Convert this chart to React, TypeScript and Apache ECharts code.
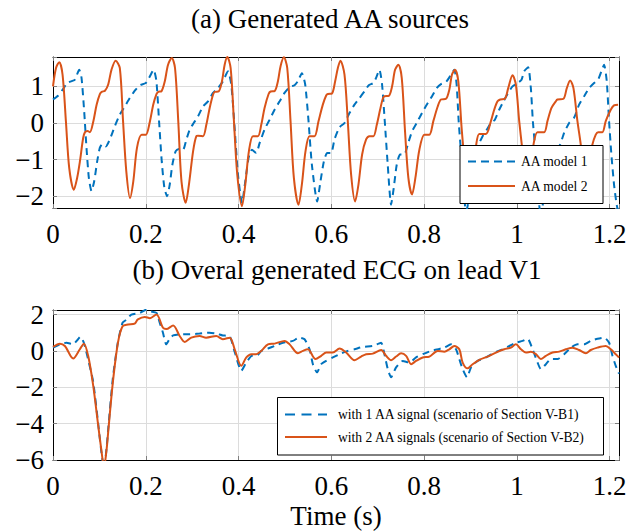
import React, { useEffect, useRef } from 'react';
import * as echarts from 'echarts';

// ---- Data (time in s, amplitude) ----
const aaModel1: [number, number][] = [
  [0,0.64],[0.0113,0.75],[0.022,0.93],[0.0306,1.09],[0.04,1.14],[0.0471,1.18],[0.0565,1.45],[0.0615,1.23],[0.0672,0.32],[0.0722,-0.68],[0.0773,-1.5],[0.083,-1.86],[0.0888,-1.59],[0.0952,-1.05],[0.1009,-0.68],[0.1067,-0.57],[0.1139,-0.64],[0.1225,-0.45],[0.1332,-0.09],[0.1441,0.23],[0.1547,0.45],[0.1655,0.68],[0.1763,0.88],[0.187,1.03],[0.2,1.09],[0.2071,1.23],[0.217,1.45],[0.2229,1.14],[0.2286,0.05],[0.2344,-1.05],[0.2401,-1.77],[0.2459,-2.0],[0.2516,-1.68],[0.2573,-1.14],[0.2645,-0.77],[0.2731,-0.7],[0.2803,-0.73],[0.2875,-0.45],[0.2947,-0.18],[0.3033,0.0],[0.3126,0.18],[0.3233,0.45],[0.3341,0.59],[0.3449,0.82],[0.3556,0.95],[0.3664,1.14],[0.3771,1.41],[0.3843,1.05],[0.3915,-0.14],[0.3987,-1.41],[0.4073,-2.18],[0.4145,-1.59],[0.4216,-0.95],[0.4288,-0.73],[0.4381,-0.82],[0.4453,-0.55],[0.456,-0.18],[0.4668,0.09],[0.4776,0.36],[0.4884,0.59],[0.4991,0.82],[0.5099,0.98],[0.5206,1.03],[0.5278,1.14],[0.5364,1.36],[0.5436,1.05],[0.5508,0.05],[0.558,-1.14],[0.5694,-2.14],[0.5766,-1.59],[0.5838,-1.05],[0.591,-0.82],[0.5996,-0.82],[0.6067,-0.45],[0.6175,-0.12],[0.6283,0.0],[0.639,0.27],[0.6498,0.5],[0.6605,0.68],[0.6713,0.86],[0.6806,1.03],[0.6907,1.09],[0.6964,1.23],[0.7036,1.45],[0.7093,1.05],[0.7151,0.05],[0.7215,-1.14],[0.7287,-2.23],[0.7345,-1.77],[0.7409,-1.14],[0.7481,-0.86],[0.7574,-0.86],[0.7646,-0.59],[0.7739,-0.23],[0.7839,0.0],[0.7954,0.27],[0.8055,0.5],[0.817,0.73],[0.827,0.95],[0.8363,1.06],[0.8471,1.12],[0.8557,1.27],[0.865,1.45],[0.87,1.05],[0.8744,0.05],[0.8787,-0.68],[0.884,-1.6],[0.89,-2.4],[0.8937,-2.27],[0.899,-1.6],[0.906,-0.9],[0.913,-0.75],[0.9188,-0.55],[0.926,-0.36],[0.9353,-0.18],[0.9439,0.0],[0.9525,0.09],[0.9618,0.36],[0.9711,0.59],[0.9797,0.79],[0.9905,1.0],[1.0013,1.09],[1.0099,1.18],[1.0156,1.41],[1.0242,1.52],[1.03,0.95],[1.0343,0.05],[1.0386,-0.59],[1.044,-1.5],[1.05,-2.4],[1.0551,-2.27],[1.062,-1.6],[1.07,-0.9],[1.08,-0.85],[1.087,-0.7],[1.0931,-0.59],[1.1017,-0.27],[1.1125,0.0],[1.1232,0.14],[1.134,0.5],[1.1448,0.73],[1.1555,0.95],[1.1663,1.09],[1.1749,1.18],[1.1821,1.41],[1.1878,1.59],[1.1936,1.14],[1.1986,0.05],[1.2036,-0.86],[1.2093,-1.68],[1.215,-2.23],[1.22,-2.5]
];

const aaModel2: [number, number][] = [
  [0,1.0],[0.0065,1.5],[0.0135,1.66],[0.0206,1.32],[0.0278,0.05],[0.035,-1.23],[0.045,-1.82],[0.052,-1.5],[0.058,-1.05],[0.065,-0.41],[0.069,-0.25],[0.0745,-0.22],[0.0795,-0.25],[0.087,0.05],[0.094,0.5],[0.101,0.79],[0.105,0.85],[0.112,0.88],[0.119,1.05],[0.126,1.45],[0.135,1.7],[0.144,1.5],[0.151,0.05],[0.158,-1.32],[0.166,-2.05],[0.173,-1.6],[0.181,-0.68],[0.191,-0.32],[0.2,-0.32],[0.209,0.05],[0.216,0.5],[0.223,0.79],[0.227,0.85],[0.234,0.87],[0.241,1.14],[0.248,1.59],[0.256,1.77],[0.263,1.5],[0.27,0.05],[0.277,-1.6],[0.286,-2.18],[0.293,-1.68],[0.302,-0.77],[0.309,-0.36],[0.3126,-0.35],[0.3233,-0.36],[0.3305,-0.05],[0.3377,0.41],[0.3449,0.77],[0.3485,0.85],[0.357,0.86],[0.3642,1.14],[0.37,1.59],[0.3757,1.8],[0.3829,1.5],[0.39,0.05],[0.3972,-1.41],[0.4073,-2.27],[0.4145,-1.68],[0.4223,-0.77],[0.431,-0.36],[0.4417,-0.36],[0.4489,-0.05],[0.456,0.41],[0.4647,0.79],[0.469,0.86],[0.4776,0.87],[0.4848,1.14],[0.4905,1.55],[0.4977,1.79],[0.5049,1.5],[0.512,0.05],[0.5192,-1.5],[0.5292,-2.23],[0.5364,-1.68],[0.5443,-0.77],[0.553,-0.36],[0.5637,-0.36],[0.5723,0.05],[0.5816,0.5],[0.5888,0.75],[0.5924,0.79],[0.601,0.8],[0.6082,1.14],[0.614,1.5],[0.6195,1.7],[0.6283,1.32],[0.6354,0.05],[0.6426,-1.41],[0.6512,-2.14],[0.6584,-1.68],[0.6663,-0.86],[0.6749,-0.45],[0.6821,-0.36],[0.6907,-0.36],[0.6979,-0.05],[0.705,0.36],[0.7108,0.66],[0.7144,0.73],[0.7237,0.74],[0.7309,1.0],[0.7373,1.45],[0.7445,1.59],[0.7517,1.23],[0.7588,-0.23],[0.766,-1.5],[0.7739,-1.95],[0.7811,-1.5],[0.7897,-0.73],[0.8005,-0.32],[0.8112,-0.32],[0.8198,0.05],[0.8292,0.45],[0.8363,0.64],[0.8471,0.66],[0.8543,0.91],[0.86,1.32],[0.8665,1.45],[0.8736,1.14],[0.8808,-0.14],[0.888,-1.14],[0.897,-1.85],[0.905,-1.3],[0.9117,-0.64],[0.9188,-0.3],[0.9332,-0.3],[0.9439,0.05],[0.951,0.36],[0.9582,0.59],[0.964,0.64],[0.974,0.66],[0.9812,0.95],[0.9905,1.3],[0.9977,1.05],[1.0049,0.05],[1.012,-0.77],[1.02,-1.7],[1.028,-1.3],[1.0357,-0.59],[1.0443,-0.25],[1.0587,-0.25],[1.0658,0.05],[1.0745,0.41],[1.0838,0.59],[1.0874,0.64],[1.1003,0.66],[1.1075,0.95],[1.1147,1.16],[1.1218,0.95],[1.1304,0.05],[1.1376,-0.59],[1.145,-1.5],[1.154,-1.2],[1.1627,-0.59],[1.1699,-0.32],[1.175,-0.25],[1.1842,-0.25],[1.1914,0.05],[1.2022,0.36],[1.2093,0.48],[1.218,0.5]
];

const ecgOneAA: [number, number][] = [
  [0,0.18],[0.015,0.36],[0.029,0.45],[0.0435,0.36],[0.051,0.55],[0.059,0.78],[0.0665,0.45],[0.0773,-0.64],[0.0866,-1.7],[0.0974,-4.0],[0.104,-5.5],[0.11,-6.5],[0.116,-5.2],[0.119,-4.3],[0.129,-1.5],[0.14,0.5],[0.15,1.55],[0.159,1.73],[0.169,2.0],[0.187,2.09],[0.201,2.27],[0.209,2.18],[0.223,2.09],[0.23,1.55],[0.237,1.0],[0.244,0.36],[0.251,0.64],[0.259,0.85],[0.273,0.91],[0.295,0.91],[0.316,0.96],[0.337,1.0],[0.352,0.95],[0.366,0.85],[0.381,0.8],[0.392,-0.09],[0.406,-1.09],[0.4167,-0.64],[0.429,-0.27],[0.439,-0.27],[0.449,0],[0.4633,0.13],[0.4777,0.27],[0.4956,0.45],[0.517,0.55],[0.531,0.73],[0.5422,0.64],[0.553,0.09],[0.5602,-0.73],[0.569,-1.18],[0.5781,-0.73],[0.5889,-0.55],[0.6032,-0.36],[0.6176,-0.18],[0.6355,0],[0.6499,0.09],[0.6678,0.22],[0.6893,0.27],[0.7073,0.45],[0.7144,-0.18],[0.7216,-1.0],[0.7288,-1.45],[0.7395,-0.91],[0.7539,-0.55],[0.7682,-0.64],[0.7826,-0.36],[0.7969,-0.18],[0.8148,0],[0.8292,0.09],[0.8435,0.18],[0.858,0.36],[0.8687,0.09],[0.8758,-0.45],[0.883,-1.0],[0.8923,-1.45],[0.901,-0.91],[0.9153,-0.55],[0.9332,-0.36],[0.9512,-0.09],[0.9691,0.09],[0.9835,0.27],[0.9978,0.45],[1.0122,0.55],[1.023,0.67],[1.0337,0.09],[1.0445,-0.64],[1.0516,-1.0],[1.0624,-0.73],[1.0732,-0.45],[1.0875,-0.45],[1.1018,-0.18],[1.1162,0.18],[1.1305,0.36],[1.1449,0.36],[1.1592,0.55],[1.1736,0.67],[1.188,0.73],[1.1987,0.45],[1.2059,-0.27],[1.213,-0.82],[1.22,-1.25]
];

const ecgTwoAA: [number, number][] = [
  [0,0.22],[0.015,0.4],[0.0256,0.27],[0.0435,-0.42],[0.0579,0.09],[0.0665,0.4],[0.0758,-0.27],[0.0866,-1.9],[0.0974,-4.1],[0.104,-5.4],[0.11,-6.4],[0.116,-5.3],[0.119,-4.45],[0.129,-1.73],[0.14,0.45],[0.15,1.36],[0.162,1.45],[0.176,1.5],[0.183,1.73],[0.198,1.87],[0.209,1.8],[0.223,2.0],[0.237,1.27],[0.244,1.2],[0.259,1.4],[0.273,0.82],[0.284,0.49],[0.298,0.73],[0.316,0.82],[0.33,0.73],[0.352,0.82],[0.366,0.64],[0.381,0.73],[0.3916,0.09],[0.4059,-0.82],[0.4167,-0.36],[0.4274,-0.18],[0.4382,-0.18],[0.449,0],[0.4633,0.36],[0.4777,0.4],[0.4992,0.55],[0.51,0.36],[0.5279,-0.13],[0.5386,0],[0.5494,0.09],[0.5659,-0.45],[0.5781,-0.27],[0.5889,-0.09],[0.6032,-0.09],[0.6176,0.13],[0.6319,-0.09],[0.6499,-0.51],[0.6642,-0.31],[0.675,-0.18],[0.6893,-0.15],[0.7073,0.05],[0.718,-0.27],[0.7288,-0.51],[0.7395,-0.31],[0.7503,-0.13],[0.7611,-0.27],[0.7718,-0.73],[0.7826,-0.55],[0.7969,-0.36],[0.8113,-0.31],[0.8292,0],[0.8435,-0.04],[0.8543,0.09],[0.865,0.27],[0.8758,0.09],[0.883,-0.64],[0.8938,-0.96],[0.9045,-0.73],[0.9189,-0.49],[0.9368,-0.31],[0.9548,-0.09],[0.9727,0.09],[0.987,0.18],[0.9978,0.36],[1.0086,0.09],[1.0193,-0.09],[1.0301,-0.05],[1.0409,-0.18],[1.0516,-0.45],[1.0624,-0.27],[1.0767,-0.09],[1.0911,-0.04],[1.1054,0.09],[1.1198,0.18],[1.1341,0.05],[1.1485,-0.13],[1.1592,0.05],[1.1736,0.18],[1.1915,0.27],[1.2023,0.09],[1.213,-0.18],[1.22,-0.36]
];

// axis ranges and tick steps
const timeRange = [0, 1.22];
const timeStep = 0.2;
const aaRange = [-2.32, 1.8];
const aaStep = 1;
const ecgRange = [-6, 2.25];
const ecgStep = 2;

const titleA = '(a) Generated AA sources';
const titleB = '(b) Overal generated ECG on lead V1';
const xLabel = 'Time (s)';
const legendA = ['AA model 1', 'AA model 2'];
const legendB = ['with 1 AA signal (scenario of Section V-B1)', 'with 2 AA signals (scenario of Section V-B2)'];

const FAMILY = '"Liberation Serif", "Times New Roman", serif';
const BLUE = '#0072BD';
const ORANGE = '#D95319';
const GRIDC = '#dcdcdc';
const TICKC = '#7f7f7f';

function fmt(step: number) {
  return (v: number) => {
    const k = v / step;
    if (Math.abs(k - Math.round(k)) > 1e-6) return '';
    const r = Math.round(v * 100) / 100;
    const s = String(r);
    return s.replace('-', '\u2212');
  };
}

function mkX(grid: number, pos: 'top' | 'bottom') {
  return {
    type: 'value', gridIndex: grid, position: pos, min: timeRange[0], max: timeRange[1],
    axisLine: { show: true, onZero: false, lineStyle: { color: '#000', width: 1 } },
    axisTick: { show: true, inside: true, length: 4, lineStyle: { color: TICKC, width: 1 } },
    axisLabel: pos === 'bottom'
      ? { show: true, formatter: fmt(timeStep), fontFamily: FAMILY, fontSize: 27, color: '#000', margin: 12, showMaxLabel: true, showMinLabel: true }
      : { show: false },
    splitLine: { show: pos === 'bottom', lineStyle: { color: GRIDC, width: 1 } },
  };
}

function mkY(grid: number, pos: 'left' | 'right', range: number[], step: number) {
  return {
    type: 'value', gridIndex: grid, position: pos, min: range[0], max: range[1],
    axisLine: { show: true, onZero: false, lineStyle: { color: '#000', width: 1 } },
    axisTick: { show: true, inside: true, length: 4, lineStyle: { color: TICKC, width: 1 } },
    axisLabel: pos === 'left'
      ? { show: true, formatter: fmt(step), fontFamily: FAMILY, fontSize: 27, color: '#000', margin: 9 }
      : { show: false },
    splitLine: { show: pos === 'left', lineStyle: { color: GRIDC, width: 1 } },
  };
}

function legendBox(x: number, y: number, w: number, h: number, lineX0: number, lineX1: number, textX: number, rows: number[], labels: string[], dash: number[]) {
  const ts = { fontFamily: FAMILY, fontSize: 13.6, fill: '#000', align: 'left', verticalAlign: 'middle' };
  return [
    { type: 'rect', z: 100, shape: { x, y, width: w, height: h }, style: { fill: '#fff', stroke: '#000', lineWidth: 1 } },
    { type: 'line', z: 101, shape: { x1: lineX0, y1: rows[0], x2: lineX1, y2: rows[0] }, style: { stroke: BLUE, lineWidth: 2, lineDash: dash } },
    { type: 'line', z: 101, shape: { x1: lineX0, y1: rows[1], x2: lineX1, y2: rows[1] }, style: { stroke: ORANGE, lineWidth: 2 } },
    { type: 'text', z: 101, x: textX, y: rows[0], style: { ...ts, text: labels[0] } },
    { type: 'text', z: 101, x: textX, y: rows[1], style: { ...ts, text: labels[1] } },
  ];
}

export default function App() {
  const ref = useRef<HTMLDivElement>(null);
  useEffect(() => {
    if (!ref.current) return;
    const chart = echarts.init(ref.current, undefined, { renderer: 'svg' });
    const lineBase = { type: 'line', showSymbol: false, symbol: 'none', clip: true };
    const big = { fontFamily: FAMILY, fontSize: 27, fill: '#000', align: 'center', verticalAlign: 'middle' };
    chart.setOption({
      animation: false,
      backgroundColor: '#fff',
      grid: [
        { left: 53, top: 57, width: 566, height: 151 },
        { left: 53, top: 310, width: 566, height: 150 },
      ],
      xAxis: [mkX(0, 'bottom'), mkX(0, 'top'), mkX(1, 'bottom'), mkX(1, 'top')],
      yAxis: [mkY(0, 'left', aaRange, aaStep), mkY(0, 'right', aaRange, aaStep), mkY(1, 'left', ecgRange, ecgStep), mkY(1, 'right', ecgRange, ecgStep)],
      series: [
        { ...lineBase, name: legendA[0], xAxisIndex: 0, yAxisIndex: 0, data: aaModel1, smooth: 0.2, lineStyle: { color: BLUE, width: 2, type: [7, 5] } },
        { ...lineBase, name: legendA[1], xAxisIndex: 0, yAxisIndex: 0, data: aaModel2, smooth: 0.3, lineStyle: { color: ORANGE, width: 2 } },
        { ...lineBase, name: legendB[0], xAxisIndex: 2, yAxisIndex: 2, data: ecgOneAA, smooth: 0.2, lineStyle: { color: BLUE, width: 2, type: [7, 5] } },
        { ...lineBase, name: legendB[1], xAxisIndex: 2, yAxisIndex: 2, data: ecgTwoAA, smooth: 0.3, lineStyle: { color: ORANGE, width: 2 } },
      ],
      graphic: [
        { type: 'text', x: 330, y: 19, style: { ...big, text: titleA } },
        { type: 'text', x: 337, y: 270, style: { ...big, text: titleB } },
        { type: 'text', x: 336, y: 516, style: { ...big, text: xLabel } },
        ...legendBox(460, 145.5, 143, 58, 468, 515, 521, [161.5, 186], legendA, [8, 5]),
        ...legendBox(277.5, 397.5, 326, 57.5, 285, 327, 338, [414.5, 437], legendB, [10, 6.5]),
      ],
    });
    return () => chart.dispose();
  }, []);
  return <div ref={ref} style={{ position: 'absolute', left: 0, top: 0, width: 637, height: 531 }} />;
}
